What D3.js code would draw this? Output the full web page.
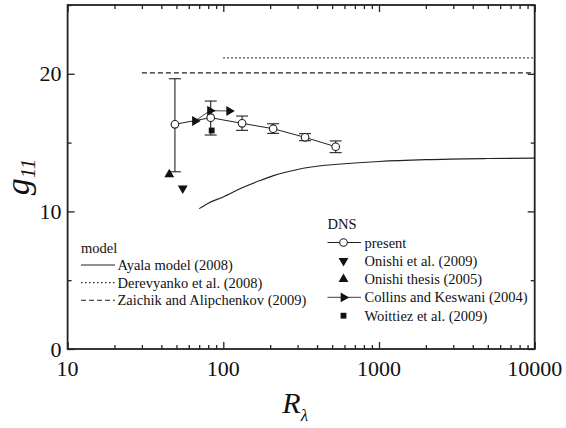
<!DOCTYPE html>
<html>
<head>
<meta charset="utf-8">
<script src="https://cdn.jsdelivr.net/npm/d3@7"></script>
</head>
<body style="margin:0">
<script>
// --- data ---
const presentR = [48.9, 83, 132, 209, 335, 527];
const presentG = [16.33, 16.81, 16.40, 16.01, 15.38, 14.70];
const presentLo = [12.88, 15.55, 15.89, 15.67, 15.14, 14.27];
const presentHi = [19.64, 18.02, 16.93, 16.37, 15.65, 15.12];

const collinsR = [65.8, 82.2, 109];
const collinsG = [16.57, 17.32, 17.30];

const onishiR = [54.9];
const onishiG = [11.68];
const thesisR = [45];
const thesisG = [12.69];
const woittiezR = [84.2];
const woittiezG = [15.88];

const ayalaR = [70, 80, 100, 130, 170, 210, 300, 450, 700, 1000, 2000, 5000, 10000];
const ayalaG = [10.2, 10.6, 11.05, 11.68, 12.22, 12.6, 13.05, 13.35, 13.52, 13.63, 13.76, 13.84, 13.87];

const derevR = [100, 10000];
const derevG = [21.16, 21.16];
const zaichikR = [30, 10000];
const zaichikG = [20.07, 20.07];

const xMajor = [10, 100, 1000, 10000];
const yMajor = [0, 10, 20];
const yMinor = [5, 15, 25];
const modelLabels = ["Ayala model (2008)", "Derevyanko et al. (2008)", "Zaichik and Alipchenkov (2009)"];
const dnsLabels = ["present", "Onishi et al. (2009)", "Onishi thesis (2005)", "Collins and Keswani (2004)", "Woittiez et al. (2009)"];

const W = 566, H = 428;
const svg = d3.select("body").append("svg").attr("width", W).attr("height", H);

const x = d3.scaleLog().domain([10, 10000]).range([67.6, 534.7]);
const y = d3.scaleLinear().domain([0, 25]).range([349, 5]);

const xMinor = [];
for (let d = 10; d < 10000; d *= 10) for (let k = 2; k <= 9; k++) xMinor.push(d * k);

const ink = "#222";

// plain text helper, font set right on the element
function label(parent, t, px, py, size) {
  return parent.append("text").attr("x", px).attr("y", py)
    .style("font-family", "Times New Roman").style("font-size", size + "px")
    .attr("fill", "#111").text(t);
}

// axes: ticks only (labels drawn as plain text), inward on all sides
function ticks(g) {
  g.selectAll("text").remove();
  g.select(".domain").remove();
  g.selectAll(".tick line").attr("stroke", ink).attr("stroke-width", 1.3);
}
svg.append("g").attr("transform", `translate(0,${y(0)})`)
  .call(d3.axisBottom(x).tickValues(xMajor).tickSize(-7)).call(ticks);
svg.append("g").attr("transform", `translate(0,${y(0)})`)
  .call(d3.axisBottom(x).tickValues(xMinor).tickSize(-4)).call(ticks);
svg.append("g").attr("transform", `translate(0,${y(25)})`)
  .call(d3.axisTop(x).tickValues(xMajor).tickSize(-7)).call(ticks);
svg.append("g").attr("transform", `translate(0,${y(25)})`)
  .call(d3.axisTop(x).tickValues(xMinor).tickSize(-4)).call(ticks);
svg.append("g").attr("transform", `translate(${x(10)},0)`)
  .call(d3.axisLeft(y).tickValues(yMajor).tickSize(-7)).call(ticks);
svg.append("g").attr("transform", `translate(${x(10)},0)`)
  .call(d3.axisLeft(y).tickValues(yMinor).tickSize(-4)).call(ticks);
svg.append("g").attr("transform", `translate(${x(10000)},0)`)
  .call(d3.axisRight(y).tickValues(yMajor).tickSize(-7)).call(ticks);
svg.append("g").attr("transform", `translate(${x(10000)},0)`)
  .call(d3.axisRight(y).tickValues(yMinor).tickSize(-4)).call(ticks);

xMajor.forEach(v => label(svg, String(v), x(v), 376, 22).attr("text-anchor", "middle"));
yMajor.forEach(v => label(svg, String(v), x(10) - 6, y(v) + 7.5, 22).attr("text-anchor", "end"));

svg.append("rect")
  .attr("x", x(10)).attr("y", y(25))
  .attr("width", x(10000) - x(10)).attr("height", y(0) - y(25))
  .attr("fill", "none").attr("stroke", ink).attr("stroke-width", 1.8);

// axis titles
const gt = label(svg, "g", 0, 0, 34)
  .attr("transform", `translate(29,${(y(0) + y(25)) / 2}) rotate(-90)`)
  .attr("text-anchor", "middle").style("font-style", "italic");
gt.append("tspan").style("font-size", "21px").attr("dy", 6).text("11");
const rt = label(svg, "R", (x(10) + x(10000)) / 2 - 6, 413, 30)
  .attr("text-anchor", "middle").style("font-style", "italic");
rt.append("tspan").style("font-size", "17px").attr("dy", 8).text("λ");

// model lines
const line = d3.line().x(d => x(d[0])).y(d => y(d[1]));
svg.append("path").datum(d3.zip(ayalaR, ayalaG)).attr("d", line.curve(d3.curveMonotoneX))
  .attr("fill", "none").attr("stroke", ink).attr("stroke-width", 1.1);
line.curve(d3.curveLinear);
svg.append("path").datum(d3.zip(derevR, derevG)).attr("d", line)
  .attr("fill", "none").attr("stroke", ink).attr("stroke-width", 1.1).attr("stroke-dasharray", "1.5,2.5");
svg.append("path").datum(d3.zip(zaichikR, zaichikG)).attr("d", line)
  .attr("fill", "none").attr("stroke", ink).attr("stroke-width", 1.1).attr("stroke-dasharray", "5,3");

// Collins & Keswani
svg.append("path").datum(d3.zip(collinsR, collinsG)).attr("d", line)
  .attr("fill", "none").attr("stroke", "#444").attr("stroke-width", 1);

// present: error bars, line, circles
const present = d3.zip(presentR, presentG, presentLo, presentHi);
const eb = svg.append("g").attr("stroke", ink).attr("stroke-width", 1.1);
present.forEach(d => {
  const cx = x(d[0]);
  eb.append("line").attr("x1", cx).attr("x2", cx).attr("y1", y(d[2])).attr("y2", y(d[3]));
  eb.append("line").attr("x1", cx - 6).attr("x2", cx + 6).attr("y1", y(d[2])).attr("y2", y(d[2]));
  eb.append("line").attr("x1", cx - 6).attr("x2", cx + 6).attr("y1", y(d[3])).attr("y2", y(d[3]));
});
svg.append("path").datum(present).attr("d", line)
  .attr("fill", "none").attr("stroke", ink).attr("stroke-width", 1);

const tri = d3.symbol().type(d3.symbolTriangle).size(42)();
const sq = d3.symbol().type(d3.symbolSquare).size(34)();

svg.selectAll(".collins").data(d3.zip(collinsR, collinsG)).join("path")
  .attr("d", tri).attr("fill", "#111")
  .attr("transform", d => `translate(${x(d[0])},${y(d[1])}) rotate(90)`);
svg.selectAll(".onishi").data(d3.zip(onishiR, onishiG)).join("path")
  .attr("d", tri).attr("fill", "#111")
  .attr("transform", d => `translate(${x(d[0])},${y(d[1])}) rotate(180)`);
svg.selectAll(".thesis").data(d3.zip(thesisR, thesisG)).join("path")
  .attr("d", tri).attr("fill", "#111")
  .attr("transform", d => `translate(${x(d[0])},${y(d[1])})`);
svg.selectAll(".woittiez").data(d3.zip(woittiezR, woittiezG)).join("path")
  .attr("d", sq).attr("fill", "#111")
  .attr("transform", d => `translate(${x(d[0])},${y(d[1])})`);
svg.selectAll(".present").data(present).join("circle")
  .attr("cx", d => x(d[0])).attr("cy", d => y(d[1])).attr("r", 3.8)
  .attr("fill", "#fff").attr("stroke", ink).attr("stroke-width", 1.1);

// legends
const fs = 14.5;
label(svg, "model", 81, 252.5, fs);
const dashes = [null, "1.5,2.5", "5,3"];
modelLabels.forEach((t, i) => {
  const yy = 265 + i * 17.6;
  svg.append("line").attr("x1", 81).attr("x2", 115).attr("y1", yy).attr("y2", yy)
    .attr("stroke", ink).attr("stroke-width", 1.1).attr("stroke-dasharray", dashes[i]);
  label(svg, t, 117.5, yy + 5, fs);
});

label(svg, "DNS", 327.5, 229, fs);
dnsLabels.forEach((t, i) => {
  const yy = 242.5 + i * 18.3;
  const sx = 343.5;
  if (i === 0) {
    svg.append("line").attr("x1", 327.5).attr("x2", 361).attr("y1", yy).attr("y2", yy)
      .attr("stroke", ink).attr("stroke-width", 1);
    svg.append("circle").attr("cx", sx).attr("cy", yy).attr("r", 3.8)
      .attr("fill", "#fff").attr("stroke", ink).attr("stroke-width", 1.1);
  } else if (i === 3) {
    svg.append("line").attr("x1", 327.5).attr("x2", 361).attr("y1", yy).attr("y2", yy)
      .attr("stroke", "#666").attr("stroke-width", 1.2);
    svg.append("path").attr("d", tri).attr("fill", "#111")
      .attr("transform", `translate(${sx},${yy}) rotate(90)`);
  } else if (i === 4) {
    svg.append("path").attr("d", sq).attr("fill", "#111")
      .attr("transform", `translate(${sx},${yy})`);
  } else {
    svg.append("path").attr("d", tri).attr("fill", "#111")
      .attr("transform", `translate(${sx},${yy}) rotate(${i === 1 ? 180 : 0})`);
  }
  label(svg, t, 364.5, yy + 5, fs);
});
</script>
</body>
</html>
